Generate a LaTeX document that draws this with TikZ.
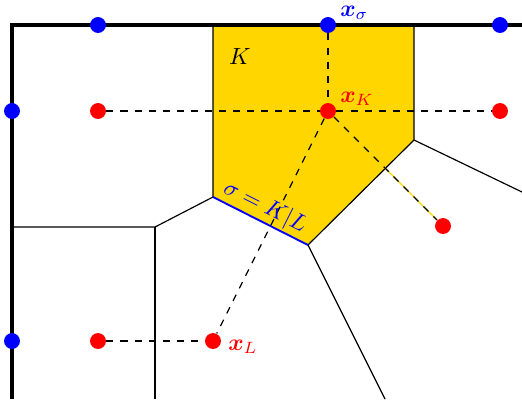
\documentclass[tikz,border=0pt]{standalone}
\usepackage{amsmath}
\usepackage{amssymb}
\usepackage{bm}
\usetikzlibrary{calc, positioning}
\definecolor{cellyellow}{RGB}{255,214,0}

\begin{document}
\begin{tikzpicture}[
  x=0.015cm, y=-0.015cm,
  edge/.style={black, line width=0.5pt},
  border/.style={black, line width=1.3pt},
  link/.style={black, dashed, line width=0.5pt},
  celldot/.style={circle, fill=red, inner sep=0pt, minimum size=6.8pt},
  facedot/.style={circle, fill=blue, inner sep=0pt, minimum size=6.8pt}
]
\useasboundingbox (0,0) rectangle (522,399);
% vertices of the mesh
\coordinate (vA) at (213,25);
\coordinate (vB) at (414,25);
\coordinate (vC) at (414,140);
\coordinate (vD) at (308,245);
\coordinate (vE) at (213,197);
\coordinate (vF) at (155,227);
% cell K
\fill[cellyellow] (vA) -- (vB) -- (vC) -- (vD) -- (vE) -- cycle;
\draw[edge] (vA) -- (vE) -- (vF) -- (12,227);
\draw[edge] (vB) -- (vC) -- (vD);
\draw[edge] (vF) -- (155,399);
\draw[edge] (vD) -- (385,399);
\draw[edge] (vC) -- (522,192);
\draw[blue, line width=0.8pt] (vE) -- (vD);
\draw[border] (12,399) -- (12,25) -- (522,25);
% centres and face points
\node[celldot] (pa) at (98,111) {};
\node[celldot] (xK) at (328,111) {};
\node[celldot] (pb) at (500,111) {};
\node[celldot] (pc) at (443,226) {};
\node[celldot] (pd) at (98,341) {};
\node[celldot] (xL) at (213,341) {};
\node[facedot] (fa) at (98,25) {};
\node[facedot] (xs) at (328,25) {};
\node[facedot] (fb) at (500,25) {};
\node[facedot] (fc) at (12,111) {};
\node[facedot] (fd) at (12,341) {};
% dashed links
\draw[link] (pa) -- (xK);
\draw[link] (xK) -- (pb);
\draw[link] (xs) -- (xK);
\draw[link] (pd) -- (xL);
\draw[link] (xK) -- (xL);
\draw[cellyellow, line width=0.5pt] (xK) -- (pc);
\draw[link] (xK) -- (pc);
% labels
\node[blue, anchor=west] at (332,13) {$\bm{x}_\sigma$};
\node[red, anchor=west] at (332,99) {$\bm{x}_K$};
\node[red, anchor=west] at (220,347) {$\bm{x}_L$};
\node at (240,56) {$K$};
\node[blue, rotate=-26.8] at (265,207) {$\sigma = K|L$};
\end{tikzpicture}
\end{document}
